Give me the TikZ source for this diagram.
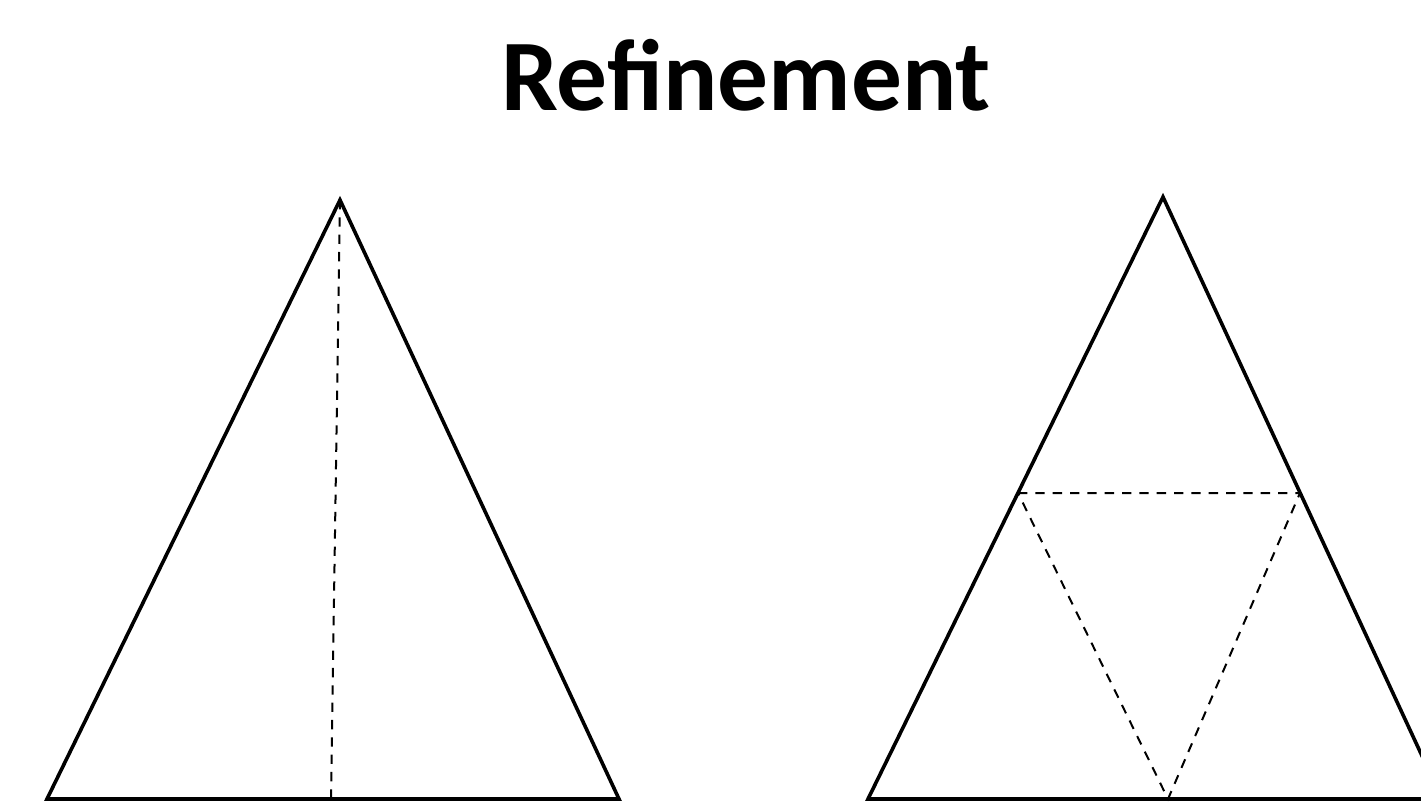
\documentclass[tikz,border=0pt]{standalone}
\usepackage{fontspec}
\setmainfont{Carlito}
\usetikzlibrary{calc}
\tikzset{
    every node/.style={font=\small},
    title/.style={font=\fontsize{76}{80}\selectfont\bfseries,inner sep=0pt,anchor=base},
    edgeline/.style={draw=black,line width=2.7pt,line join=miter},
    splitline/.style={draw=black,line width=1.5pt,dash pattern=on 7pt off 6pt}
}
\begin{document}
\begin{tikzpicture}[x=0.75pt,y=-0.75pt]
    \useasboundingbox (0,0) rectangle (1421,809);
    \node[title] (ttl) at (746,111) {Refinement};
    % left triangle, bisected
    \coordinate (la) at (340,200);
    \coordinate (lb) at (47,799);
    \coordinate (lc) at (619,799);
    \coordinate (lm) at (331,799);
    \draw[splitline] (la)--(lm);
    \draw[edgeline] (lb)--(la)--(lc)--cycle;
    % right triangle, split into four
    \coordinate (ra) at (1163,197);
    \coordinate (rb) at (868,799);
    \coordinate (rc) at (1442,799);
    \coordinate (rab) at (1018,493);
    \coordinate (rac) at (1300,493);
    \coordinate (rbc) at (1168,799);
    \draw[splitline] (rab)--(rac)--(rbc)--cycle;
    \draw[edgeline] (rb)--(ra)--(rc)--cycle;
\end{tikzpicture}
\end{document}
